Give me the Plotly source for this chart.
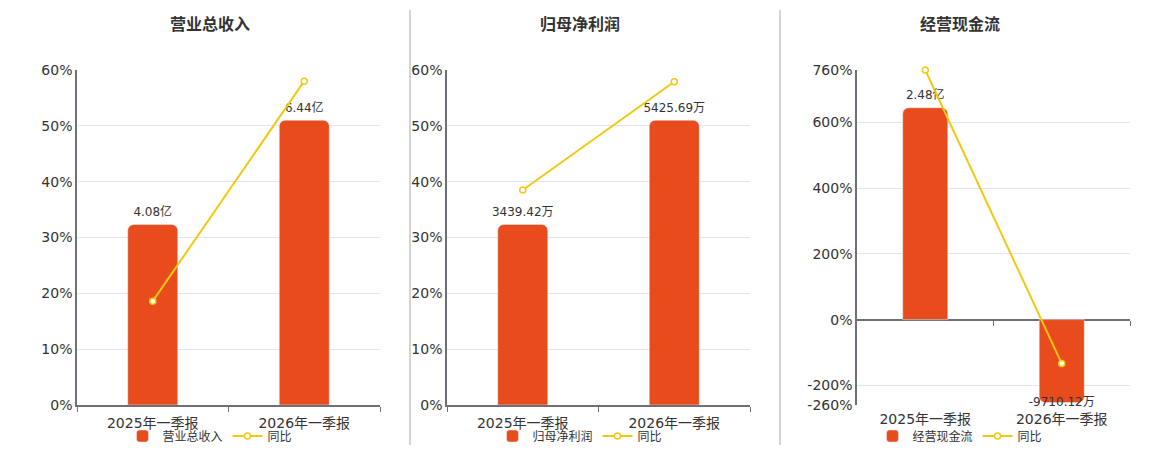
import plotly.graph_objects as go

# Data
periods = ["2025年一季报", "2026年一季报"]

titles = ["营业总收入", "归母净利润", "经营现金流"]

revenue = [4.08, 6.44]                    # 亿
revenue_text = ["4.08亿", "6.44亿"]
revenue_yoy = [18.6, 58.0]                # %

profit = [3439.42, 5425.69]               # 万
profit_text = ["3439.42万", "5425.69万"]
profit_yoy = [38.5, 57.9]

cashflow = [24800.0, -9710.12]            # 万
cashflow_text = ["2.48亿", "-9710.12万"]
cashflow_yoy = [760.0, -134.0]

BAR = "#e84c1c"
LINE = "#f3c811"
GRID = "#e0e6f1"
AXIS = "#6e7079"
TXT = "#333333"
FONT = "DejaVu Sans, Noto Sans CJK SC, sans-serif"

W, H = 1160, 450
OFF = 8  # page offset of the plot div


def px_x(v):
    return (v - OFF) / W


def px_y(v):
    return 1 - (v - OFF) / H


fig = go.Figure()

panels = [
    dict(bars=revenue, text=revenue_text, yoy=revenue_yoy, dom=[77, 380],
         yr=[0, 60], ticks=[0, 10, 20, 30, 40, 50, 60], title_x=210, leg_x=210),
    dict(bars=profit, text=profit_text, yoy=profit_yoy, dom=[447, 750],
         yr=[0, 60], ticks=[0, 10, 20, 30, 40, 50, 60], title_x=580, leg_x=580),
    dict(bars=cashflow, text=cashflow_text, yoy=cashflow_yoy, dom=[857, 1130],
         yr=[-260, 760], ticks=[-260, -200, 0, 200, 400, 600, 760], title_x=960, leg_x=960),
]

ydom = [px_y(405), px_y(70)]

for i, p in enumerate(panels):
    n = i + 1
    sfx = "" if n == 1 else str(n)
    xa = "x" + sfx
    yb = "y" + sfx            # hidden axis for the bars
    ya = f"y{n + 3}"          # visible % axis for the yoy line
    leg = "legend" + sfx

    # bar axis scaled so bars sit like in the source (zero aligned with % axis)
    lo, hi = p["yr"]
    top = max(p["bars"]) / (0.85 if lo == 0 else 645 / 760)
    bottom = top * lo / hi

    fig.add_trace(go.Bar(
        x=periods, y=p["bars"], name=titles[i], xaxis=xa, yaxis=yb,
        marker=dict(color=BAR, cornerradius=6), width=0.33,
        legend=leg, hoverinfo="skip"))
    fig.add_trace(go.Scatter(
        x=periods, y=p["bars"], text=p["text"], mode="markers+text", xaxis=xa, yaxis=yb,
        marker=dict(size=7, opacity=0),
        textposition=["top center" if v >= 0 else "middle center" for v in p["bars"]],
        textfont=dict(size=12, color=TXT, family=FONT),
        cliponaxis=False, showlegend=False, hoverinfo="skip"))
    fig.add_trace(go.Scatter(
        x=periods, y=p["yoy"], name="同比", mode="lines+markers", xaxis=xa, yaxis=ya,
        line=dict(color=LINE, width=2),
        marker=dict(symbol="circle", size=6, color="white", line=dict(color=LINE, width=1.5)),
        cliponaxis=False, legend=leg, hoverinfo="skip"))

    dom = [px_x(p["dom"][0]), px_x(p["dom"][1])]
    fig.layout["xaxis" + sfx] = dict(
        domain=dom, anchor=yb, type="category", range=[-0.5, 1.5],
        showline=(lo == 0), linecolor=AXIS, linewidth=1.5,
        ticks="outside" if lo == 0 else "", tickson="boundaries", ticklen=5, tickcolor=AXIS,
        ticklabelstandoff=4,
        tickfont=dict(size=14, color=TXT, family=FONT), showgrid=False, automargin=False)
    fig.layout["yaxis" + sfx] = dict(
        domain=ydom, anchor=xa, range=[bottom, top], visible=False,
        showgrid=False, zeroline=False, automargin=False)
    fig.layout[f"yaxis{n + 3}"] = dict(
        domain=ydom, anchor=xa, overlaying=yb, side="left", range=p["yr"], tickvals=p["ticks"],
        ticktext=[f"{t}%" for t in p["ticks"]],
        showline=True, linecolor=AXIS, linewidth=1.5, gridcolor=GRID, gridwidth=1,
        zeroline=(lo != 0), zerolinecolor=AXIS, zerolinewidth=1.5,
        tickfont=dict(size=14, color=TXT, family=FONT), ticks="", automargin=False)
    fig.layout[leg] = dict(
        orientation="h", x=px_x(p["leg_x"]), xanchor="center", y=px_y(436), yanchor="middle",
        font=dict(size=12, color=TXT, family=FONT), bgcolor="rgba(0,0,0,0)",
        itemwidth=30, tracegroupgap=0)

    fig.add_annotation(text=f"<b>{titles[i]}</b>", x=px_x(p["title_x"]), y=px_y(24),
                       xref="paper", yref="paper", xanchor="center", yanchor="middle",
                       showarrow=False, font=dict(size=16, color=TXT, family=FONT))

# zero-line ticks for the cash-flow panel
fig.layout["xaxis7"] = dict(
    domain=[px_x(857), px_x(1130)], anchor="free", overlaying="x3",
    position=px_y(320), range=[-0.5, 1.5], tickvals=[0.5, 1.5],
    ticks="outside", ticklen=5, tickcolor=AXIS, showticklabels=False,
    showline=False, showgrid=False, zeroline=False, automargin=False)
fig.add_trace(go.Scatter(x=[0], y=[0], xaxis="x7", yaxis="y3", mode="markers",
                         marker=dict(opacity=0), showlegend=False, hoverinfo="skip"))

# panel separators
for sx in [410, 780]:
    fig.add_shape(type="line", xref="paper", yref="paper",
                  x0=px_x(sx), x1=px_x(sx), y0=px_y(445), y1=px_y(10),
                  line=dict(color="#aaaaaa", width=1))

fig.update_layout(
    width=W, height=H, margin=dict(l=0, r=0, t=0, b=0, autoexpand=False),
    plot_bgcolor="white", paper_bgcolor="white",
    font=dict(family=FONT, color=TXT), barmode="overlay",
)

fig.write_html("out.html")
